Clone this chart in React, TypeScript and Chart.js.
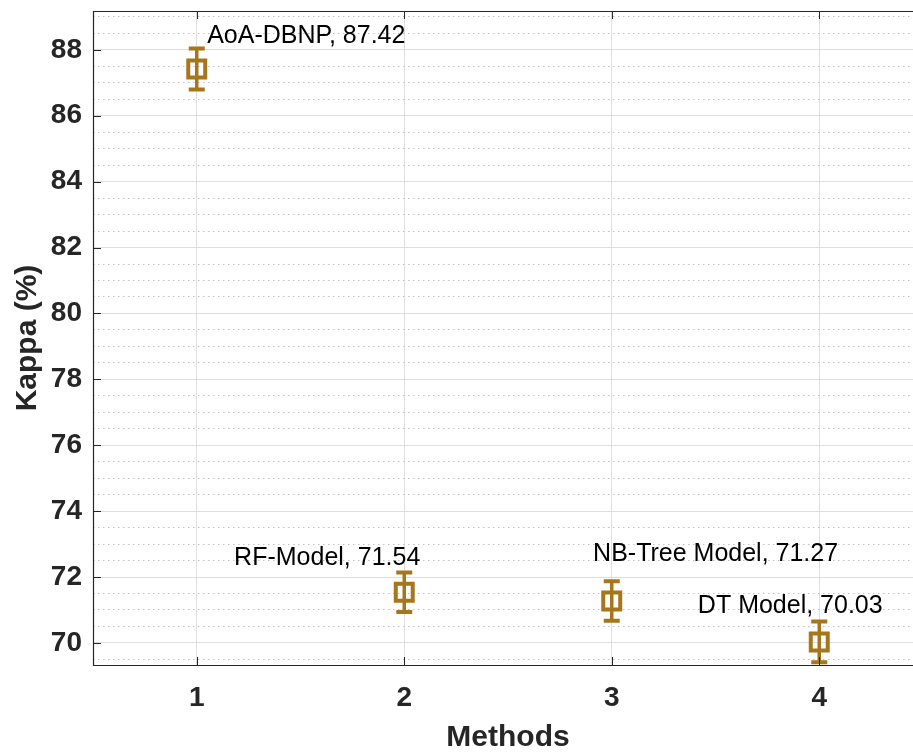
import React, { useEffect, useRef } from "react";
import { Chart, registerables } from "chart.js";

Chart.register(...registerables);

// ---- data ----
const methods = [1, 2, 3, 4];
const methodNames = ["AoA-DBNP", "RF-Model", "NB-Tree Model", "DT Model"];
const kappa = [87.42, 71.54, 71.27, 70.03];
const kappaErr = [0.62, 0.6, 0.6, 0.62];
// annotation anchors (data units): left edge x, baseline y
const labelX = [1.05, 1.18, 2.91, 3.415];
const labelY = [88.21, 72.37, 72.5, 70.91];

const xTicks = [1, 2, 3, 4];
const yMajorTicks = [70, 72, 74, 76, 78, 80, 82, 84, 86, 88];
const yMinorStep = 0.5;
const xMin = 0.5;
const xMax = 4.5;
const yMin = 69.33;
const yMax = 89.18;

const MARK = "#A6761D";
const AXIS = "#262626";
const FONT = "'Liberation Sans', Arial, Helvetica, sans-serif";

const yGridValues: number[] = [];
for (let v = Math.ceil(yMin / yMinorStep) * yMinorStep; v <= yMax + 1e-9; v += yMinorStep) {
  yGridValues.push(Math.round(v * 100) / 100);
}
const isMajor = (v: number) => yMajorTicks.some((t) => Math.abs(t - v) < 1e-6);

const errPlugin = {
  id: "errAndBox",
  beforeDatasetsDraw(chart: any) {
    const { ctx, scales } = chart;
    const xs = scales.x;
    const ys = scales.y;
    ctx.save();
    ctx.strokeStyle = MARK;
    ctx.lineCap = "butt";
    methods.forEach((m, i) => {
      const px = xs.getPixelForValue(m);
      const top = ys.getPixelForValue(kappa[i] + kappaErr[i]);
      const bot = ys.getPixelForValue(kappa[i] - kappaErr[i]);
      ctx.lineWidth = 3.5;
      ctx.beginPath();
      ctx.moveTo(px, top);
      ctx.lineTo(px, bot);
      ctx.stroke();
      ctx.lineWidth = 4;
      ctx.beginPath();
      ctx.moveTo(px - 8, top);
      ctx.lineTo(px + 8, top);
      ctx.moveTo(px - 8, bot);
      ctx.lineTo(px + 8, bot);
      ctx.stroke();
    });
    ctx.restore();
  },
  afterDatasetsDraw(chart: any) {
    const { ctx, scales, chartArea } = chart;
    const xs = scales.x;
    const ys = scales.y;
    // annotation labels
    ctx.save();
    ctx.fillStyle = "#000";
    ctx.font = `25px ${FONT}`;
    ctx.textAlign = "left";
    ctx.textBaseline = "alphabetic";
    methods.forEach((m, i) => {
      ctx.fillText(
        `${methodNames[i]}, ${kappa[i].toFixed(2)}`,
        xs.getPixelForValue(labelX[i]),
        ys.getPixelForValue(labelY[i])
      );
    });
    ctx.restore();
    // axes box + inner ticks
    const { left, right, top, bottom } = chartArea;
    ctx.save();
    ctx.strokeStyle = AXIS;
    ctx.lineWidth = 1.2;
    ctx.beginPath();
    ctx.moveTo(right, top + 0.5);
    ctx.lineTo(left + 0.5, top + 0.5);
    ctx.lineTo(left + 0.5, bottom + 0.5);
    ctx.lineTo(right, bottom + 0.5);
    ctx.stroke();
    ctx.lineWidth = 1;
    ctx.beginPath();
    yMajorTicks.forEach((t) => {
      const py = Math.round(ys.getPixelForValue(t)) + 0.5;
      ctx.moveTo(left, py);
      ctx.lineTo(left + 8, py);
    });
    xTicks.forEach((t) => {
      const px = Math.round(xs.getPixelForValue(t)) + 0.5;
      ctx.moveTo(px, bottom);
      ctx.lineTo(px, bottom - 8);
      ctx.moveTo(px, top);
      ctx.lineTo(px, top + 8);
    });
    ctx.stroke();
    ctx.restore();
  },
};

export default function App() {
  const ref = useRef<HTMLCanvasElement | null>(null);
  useEffect(() => {
    const canvas = ref.current;
    if (!canvas) return;
    const chart = new Chart(canvas, {
      type: "scatter",
      data: {
        datasets: [
          {
            data: methods.map((m, i) => ({ x: m, y: kappa[i] })),
            pointStyle: "rect",
            pointRadius: 12,
            pointHoverRadius: 12,
            pointBorderWidth: 4,
            pointHoverBorderWidth: 4,
            borderColor: MARK,
            backgroundColor: "rgba(0,0,0,0)",
            showLine: false,
          } as any,
        ],
      },
      options: {
        responsive: false,
        animation: false,
        devicePixelRatio: 1,
        events: [],
        layout: { autoPadding: false, padding: { top: 11, right: 17, left: 0, bottom: 0 } },
        plugins: { legend: { display: false }, tooltip: { enabled: false } },
        scales: {
          x: {
            type: "linear",
            min: xMin,
            max: xMax,
            afterBuildTicks: (s: any) => {
              s.ticks = xTicks.map((v) => ({ value: v }));
            },
            afterFit: (s: any) => {
              s.height = 88;
              s.paddingLeft = 0;
              s.paddingRight = 0;
            },
            grid: { color: "#dedede", lineWidth: 1, drawTicks: false, tickLength: 0 },
            border: { display: false },
            ticks: {
              padding: 16,
              color: AXIS,
              autoSkip: false,
              maxRotation: 0,
              font: { family: FONT, size: 28, weight: "bold" },
              callback: (v: any) => String(v),
            },
            title: {
              display: true,
              text: "Methods",
              color: AXIS,
              font: { family: FONT, size: 30, weight: "bold", lineHeight: 1 },
              padding: 0,
            },
          },
          y: {
            type: "linear",
            min: yMin,
            max: yMax,
            afterBuildTicks: (s: any) => {
              s.ticks = yGridValues.map((v) => ({ value: v }));
            },
            afterFit: (s: any) => {
              s.width = 93;
              s.paddingTop = 0;
              s.paddingBottom = 0;
            },
            grid: {
              color: (c: any) => (c.tick && isMajor(c.tick.value) ? "#dedede" : "#c2c2c2"),
              lineWidth: 1,
              drawTicks: false,
              tickLength: 0,
            },
            border: {
              display: false,
              dash: (c: any) => (c.tick && !isMajor(c.tick.value) ? [1.5, 3.5] : []),
            } as any,
            ticks: {
              padding: 11,
              color: AXIS,
              autoSkip: false,
              font: { family: FONT, size: 28, weight: "bold" },
              callback: (v: any) => (isMajor(Number(v)) ? String(Math.round(Number(v))) : ""),
            },
            title: {
              display: true,
              text: "Kappa (%)",
              color: AXIS,
              font: { family: FONT, size: 30, weight: "bold", lineHeight: 1 },
              padding: { top: 13, bottom: 0 },
            },
          },
        },
      } as any,
      plugins: [errPlugin],
    });
    return () => chart.destroy();
  }, []);
  return (
    <div
      style={{
        position: "absolute",
        left: 0,
        top: 0,
        width: 913,
        height: 753,
        overflow: "hidden",
        background: "#fff",
      }}
    >
      <canvas ref={ref} width={940} height={753} style={{ display: "block" }} />
    </div>
  );
}
